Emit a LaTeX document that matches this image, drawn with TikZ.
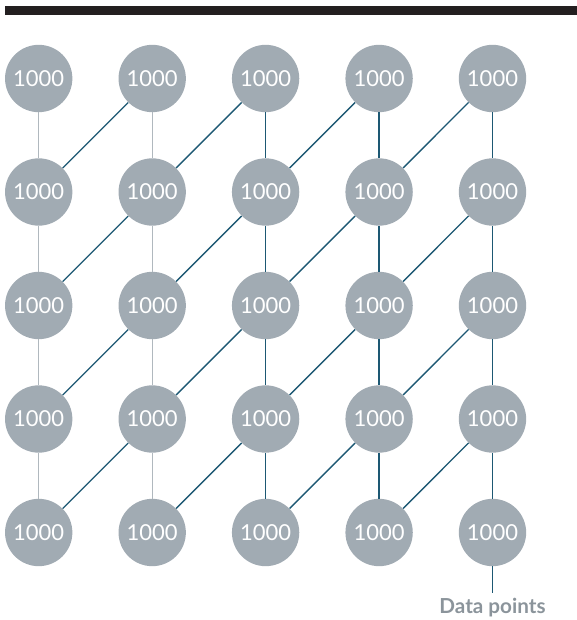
\documentclass[tikz,border=0pt]{standalone}
\usepackage{fontspec}
\setmainfont{Lato}
\definecolor{nodefill}{HTML}{A1ABB3}
\definecolor{greyline}{HTML}{B0B8BE}
\definecolor{tealline}{HTML}{1D5873}
\definecolor{labelgrey}{HTML}{8B949B}
\definecolor{barblack}{HTML}{231F20}
\tikzset{
  dot/.style={circle, fill=nodefill, draw=none, inner sep=0pt, minimum size=50.5pt,
              text=white, font=\fontsize{16.5}{16.5}\selectfont},
  gline/.style={draw=greyline, line width=1pt},
  tline/.style={draw=tealline, line width=1pt},
}
\begin{document}
\begin{tikzpicture}[x=0.75pt, y=-0.75pt]
\useasboundingbox (0,0) rectangle (577,620);
\fill[barblack] (4.5,6) rectangle (577,15);
\foreach \c/\x in {1/38.7,2/152.2,3/265.6,4/379.1,5/492.5}{
  \foreach \r/\y in {1/78.5,2/192,3/305.5,4/419,5/532.5}{
    \node[dot] (n\r\c) at (\x,\y) {1000};
  }
}
\node[font=\bfseries\fontsize{15.5}{15.5}\selectfont, text=labelgrey, anchor=base] (lbl) at (492.5,613) {Data points};
\coordinate (lend) at (492.5,593);
% verticals
\foreach \c in {1,2}{
  \foreach \r/\s in {1/2,2/3,3/4,4/5}{
    \draw[gline] (n\r\c) -- (n\s\c);
  }
}
\foreach \c in {3,4,5}{
  \foreach \r/\s in {1/2,2/3,3/4,4/5}{
    \draw[tline] (n\r\c) -- (n\s\c);
  }
}
\draw[tline] (n55) -- (lend);
% diagonals
\foreach \r/\s in {1/2,2/3,3/4,4/5}{
  \foreach \c/\d in {1/2,2/3,3/4,4/5}{
    \draw[tline] (n\s\c) -- (n\r\d);
  }
}
\end{tikzpicture}
\end{document}
